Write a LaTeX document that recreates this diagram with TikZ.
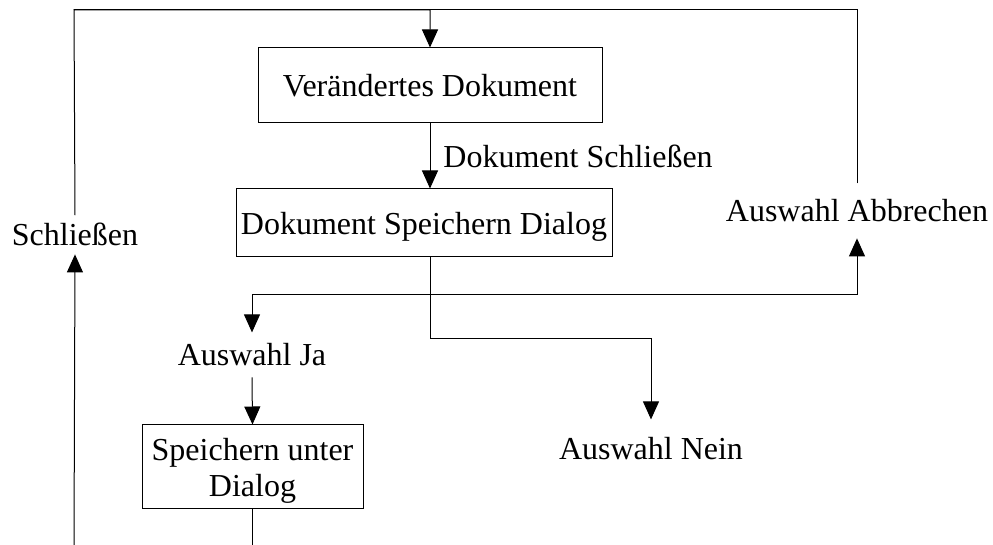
\documentclass[tikz,border=0pt]{standalone}
\usepackage{fontspec}
\setmainfont{Liberation Serif}
\usetikzlibrary{arrows.meta,positioning,calc}
\tikzset{
  sbox/.style={rectangle,draw=black,fill=white,line width=.5pt,
               font=\fontsize{16}{18}\selectfont,align=center,
               text depth=0pt,inner sep=0pt},
  slabel/.style={font=\fontsize{16}{18}\selectfont,anchor=base,
                 text depth=0pt},
  sline/.style={black,line width=.5pt},
  sedge/.style={sline,-{Triangle[length=9pt,width=8pt]}},
}

\begin{document}
\begin{tikzpicture}[x=.5pt,y=-.5pt]
    \useasboundingbox (0,0) rectangle (993,545);

    % boxes
    \node[sbox,minimum width=172pt,minimum height=37.5pt] (vd) at (430,85.5)
        {Verändertes Dokument};
    \node[sbox,minimum width=188pt,minimum height=34pt] (dsd) at (424,223)
        {Dokument Speichern Dialog};
    \node[sbox,minimum width=110.5pt,minimum height=42pt] (sud) at (252.5,467)
        {Speichern unter\\Dialog};

    % labels
    \node[slabel,inner sep=4pt] (schl) at (75,246) {Schließen};
    \node[slabel,inner sep=8pt] (abbr) at (857,222) {Auswahl Abbrechen};
    \node[slabel,inner sep=5.5pt] (ja) at (252,366) {Auswahl Ja};
    \node[slabel,inner sep=9pt] (nein) at (651,460) {Auswahl Nein};
    \node[slabel,anchor=base west,inner sep=0pt] (dschl) at (443,168)
        {Dokument Schließen};

    \coordinate (topleft) at (74,10);
    \coordinate (split) at (430,295);
    \coordinate (knee) at (430,339);
    \coordinate (bl) at (74,545);

    % connectors
    \draw[sedge] (schl.north) -- (topleft) -| (vd.north);
    \draw[sline] (abbr.north) |- (topleft);
    \draw[sedge] (bl) -- (schl.south);
    \draw[sedge] (vd.south) -- (vd.south |- dsd.north);
    \draw[sedge] (vd.south |- dsd.south) -- (knee) -| (nein.north);
    \draw[sedge] (split) -| (ja.north);
    \draw[sedge] (split) -| (abbr.south);
    \draw[sedge] (ja.south) -- (sud.north);
    \draw[sline] (sud.south) -- (sud.south |- bl);
\end{tikzpicture}
\end{document}
